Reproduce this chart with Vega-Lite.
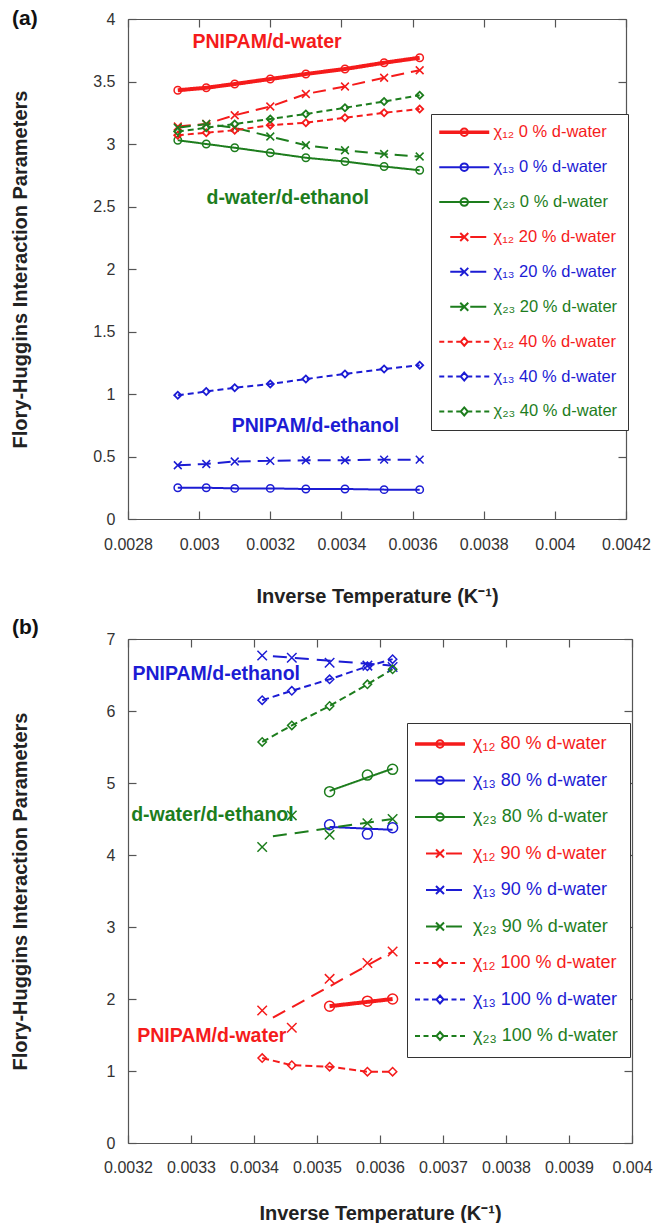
{
  "$schema": "https://vega.github.io/schema/vega-lite/v6.json",
  "background": "white",
  "padding": {"left": 10, "top": 8, "right": 0, "bottom": 0},
  "bounds": "flush",
  "spacing": 120,
  "config": {
    "font": "Liberation Sans",
    "view": {"stroke": null},
    "axis": {
      "grid": false,
      "domainColor": "#555555",
      "domainWidth": 1.2,
      "tickColor": "#555555",
      "tickWidth": 1.2,
      "tickSize": -8,
      "labelFlush": false,
      "labelOverlap": false,
      "labelFont": "Liberation Sans",
      "labelFontSize": 16,
      "labelColor": "#333333",
      "labelPadding": 21,
      "titleFont": "Liberation Sans",
      "titleFontSize": 20,
      "titleFontWeight": "bold",
      "titleColor": "#222222"
    },
    "title": {"font": "Liberation Sans", "fontSize": 21, "fontWeight": "bold", "color": "#111111", "anchor": "start", "frame": "group", "offset": 0}
  },
  "resolve": {
    "scale": {"color": "independent", "stroke": "independent", "shape": "independent", "strokeDash": "independent", "fill": "independent"},
    "legend": {"color": "independent", "stroke": "independent", "shape": "independent"}
  },
  "datasets": {
    "a_points": [
      {"series": "χ₁₂ 0 % d-water", "pct": 0, "x": 0.00294, "y": 3.43},
      {"series": "χ₁₂ 0 % d-water", "pct": 0, "x": 0.00302, "y": 3.45},
      {"series": "χ₁₂ 0 % d-water", "pct": 0, "x": 0.0031, "y": 3.48},
      {"series": "χ₁₂ 0 % d-water", "pct": 0, "x": 0.0032, "y": 3.52},
      {"series": "χ₁₂ 0 % d-water", "pct": 0, "x": 0.0033, "y": 3.56},
      {"series": "χ₁₂ 0 % d-water", "pct": 0, "x": 0.00341, "y": 3.6},
      {"series": "χ₁₂ 0 % d-water", "pct": 0, "x": 0.00352, "y": 3.65},
      {"series": "χ₁₂ 0 % d-water", "pct": 0, "x": 0.00362, "y": 3.69},
      {"series": "χ₁₃ 0 % d-water", "pct": 0, "x": 0.00294, "y": 0.25},
      {"series": "χ₁₃ 0 % d-water", "pct": 0, "x": 0.00302, "y": 0.25},
      {"series": "χ₁₃ 0 % d-water", "pct": 0, "x": 0.0031, "y": 0.245},
      {"series": "χ₁₃ 0 % d-water", "pct": 0, "x": 0.0032, "y": 0.245},
      {"series": "χ₁₃ 0 % d-water", "pct": 0, "x": 0.0033, "y": 0.24},
      {"series": "χ₁₃ 0 % d-water", "pct": 0, "x": 0.00341, "y": 0.24},
      {"series": "χ₁₃ 0 % d-water", "pct": 0, "x": 0.00352, "y": 0.235},
      {"series": "χ₁₃ 0 % d-water", "pct": 0, "x": 0.00362, "y": 0.235},
      {"series": "χ₂₃ 0 % d-water", "pct": 0, "x": 0.00294, "y": 3.03},
      {"series": "χ₂₃ 0 % d-water", "pct": 0, "x": 0.00302, "y": 3.0},
      {"series": "χ₂₃ 0 % d-water", "pct": 0, "x": 0.0031, "y": 2.97},
      {"series": "χ₂₃ 0 % d-water", "pct": 0, "x": 0.0032, "y": 2.93},
      {"series": "χ₂₃ 0 % d-water", "pct": 0, "x": 0.0033, "y": 2.89},
      {"series": "χ₂₃ 0 % d-water", "pct": 0, "x": 0.00341, "y": 2.86},
      {"series": "χ₂₃ 0 % d-water", "pct": 0, "x": 0.00352, "y": 2.82},
      {"series": "χ₂₃ 0 % d-water", "pct": 0, "x": 0.00362, "y": 2.79},
      {"series": "χ₁₂ 20 % d-water", "pct": 20, "x": 0.00294, "y": 3.14},
      {"series": "χ₁₂ 20 % d-water", "pct": 20, "x": 0.00302, "y": 3.16},
      {"series": "χ₁₂ 20 % d-water", "pct": 20, "x": 0.0031, "y": 3.23},
      {"series": "χ₁₂ 20 % d-water", "pct": 20, "x": 0.0032, "y": 3.3},
      {"series": "χ₁₂ 20 % d-water", "pct": 20, "x": 0.0033, "y": 3.4},
      {"series": "χ₁₂ 20 % d-water", "pct": 20, "x": 0.00341, "y": 3.46},
      {"series": "χ₁₂ 20 % d-water", "pct": 20, "x": 0.00352, "y": 3.53},
      {"series": "χ₁₂ 20 % d-water", "pct": 20, "x": 0.00362, "y": 3.59},
      {"series": "χ₁₃ 20 % d-water", "pct": 20, "x": 0.00294, "y": 0.43},
      {"series": "χ₁₃ 20 % d-water", "pct": 20, "x": 0.00302, "y": 0.44},
      {"series": "χ₁₃ 20 % d-water", "pct": 20, "x": 0.0031, "y": 0.46},
      {"series": "χ₁₃ 20 % d-water", "pct": 20, "x": 0.0032, "y": 0.465},
      {"series": "χ₁₃ 20 % d-water", "pct": 20, "x": 0.0033, "y": 0.47},
      {"series": "χ₁₃ 20 % d-water", "pct": 20, "x": 0.00341, "y": 0.47},
      {"series": "χ₁₃ 20 % d-water", "pct": 20, "x": 0.00352, "y": 0.475},
      {"series": "χ₁₃ 20 % d-water", "pct": 20, "x": 0.00362, "y": 0.475},
      {"series": "χ₂₃ 20 % d-water", "pct": 20, "x": 0.00294, "y": 3.13},
      {"series": "χ₂₃ 20 % d-water", "pct": 20, "x": 0.00302, "y": 3.16},
      {"series": "χ₂₃ 20 % d-water", "pct": 20, "x": 0.0031, "y": 3.13},
      {"series": "χ₂₃ 20 % d-water", "pct": 20, "x": 0.0032, "y": 3.06},
      {"series": "χ₂₃ 20 % d-water", "pct": 20, "x": 0.0033, "y": 2.99},
      {"series": "χ₂₃ 20 % d-water", "pct": 20, "x": 0.00341, "y": 2.95},
      {"series": "χ₂₃ 20 % d-water", "pct": 20, "x": 0.00352, "y": 2.92},
      {"series": "χ₂₃ 20 % d-water", "pct": 20, "x": 0.00362, "y": 2.9},
      {"series": "χ₁₂ 40 % d-water", "pct": 40, "x": 0.00294, "y": 3.07},
      {"series": "χ₁₂ 40 % d-water", "pct": 40, "x": 0.00302, "y": 3.09},
      {"series": "χ₁₂ 40 % d-water", "pct": 40, "x": 0.0031, "y": 3.11},
      {"series": "χ₁₂ 40 % d-water", "pct": 40, "x": 0.0032, "y": 3.15},
      {"series": "χ₁₂ 40 % d-water", "pct": 40, "x": 0.0033, "y": 3.17},
      {"series": "χ₁₂ 40 % d-water", "pct": 40, "x": 0.00341, "y": 3.21},
      {"series": "χ₁₂ 40 % d-water", "pct": 40, "x": 0.00352, "y": 3.25},
      {"series": "χ₁₂ 40 % d-water", "pct": 40, "x": 0.00362, "y": 3.28},
      {"series": "χ₁₃ 40 % d-water", "pct": 40, "x": 0.00294, "y": 0.99},
      {"series": "χ₁₃ 40 % d-water", "pct": 40, "x": 0.00302, "y": 1.02},
      {"series": "χ₁₃ 40 % d-water", "pct": 40, "x": 0.0031, "y": 1.05},
      {"series": "χ₁₃ 40 % d-water", "pct": 40, "x": 0.0032, "y": 1.08},
      {"series": "χ₁₃ 40 % d-water", "pct": 40, "x": 0.0033, "y": 1.12},
      {"series": "χ₁₃ 40 % d-water", "pct": 40, "x": 0.00341, "y": 1.16},
      {"series": "χ₁₃ 40 % d-water", "pct": 40, "x": 0.00352, "y": 1.2},
      {"series": "χ₁₃ 40 % d-water", "pct": 40, "x": 0.00362, "y": 1.23},
      {"series": "χ₂₃ 40 % d-water", "pct": 40, "x": 0.00294, "y": 3.1},
      {"series": "χ₂₃ 40 % d-water", "pct": 40, "x": 0.00302, "y": 3.13},
      {"series": "χ₂₃ 40 % d-water", "pct": 40, "x": 0.0031, "y": 3.16},
      {"series": "χ₂₃ 40 % d-water", "pct": 40, "x": 0.0032, "y": 3.2},
      {"series": "χ₂₃ 40 % d-water", "pct": 40, "x": 0.0033, "y": 3.24},
      {"series": "χ₂₃ 40 % d-water", "pct": 40, "x": 0.00341, "y": 3.29},
      {"series": "χ₂₃ 40 % d-water", "pct": 40, "x": 0.00352, "y": 3.34},
      {"series": "χ₂₃ 40 % d-water", "pct": 40, "x": 0.00362, "y": 3.39}
    ],
    "a_notes": [
      {"note": "PNIPAM/d-water", "pair": "12", "x": 0.003191, "y": 3.82},
      {"note": "d-water/d-ethanol", "pair": "23", "x": 0.003249, "y": 2.565},
      {"note": "PNIPAM/d-ethanol", "pair": "13", "x": 0.003327, "y": 0.745}
    ],
    "b_points": [
      {"series": "χ₁₂ 80 % d-water", "pct": 80, "x": 0.00352, "y": 1.9},
      {"series": "χ₁₂ 80 % d-water", "pct": 80, "x": 0.00358, "y": 1.97},
      {"series": "χ₁₂ 80 % d-water", "pct": 80, "x": 0.00362, "y": 2.0},
      {"series": "χ₁₃ 80 % d-water", "pct": 80, "x": 0.00352, "y": 4.42},
      {"series": "χ₁₃ 80 % d-water", "pct": 80, "x": 0.00358, "y": 4.29},
      {"series": "χ₁₃ 80 % d-water", "pct": 80, "x": 0.00362, "y": 4.38},
      {"series": "χ₂₃ 80 % d-water", "pct": 80, "x": 0.00352, "y": 4.88},
      {"series": "χ₂₃ 80 % d-water", "pct": 80, "x": 0.00358, "y": 5.11},
      {"series": "χ₂₃ 80 % d-water", "pct": 80, "x": 0.00362, "y": 5.19},
      {"series": "χ₁₂ 90 % d-water", "pct": 90, "x": 0.003413, "y": 1.84},
      {"series": "χ₁₂ 90 % d-water", "pct": 90, "x": 0.00346, "y": 1.6},
      {"series": "χ₁₂ 90 % d-water", "pct": 90, "x": 0.00352, "y": 2.28},
      {"series": "χ₁₂ 90 % d-water", "pct": 90, "x": 0.00358, "y": 2.5},
      {"series": "χ₁₂ 90 % d-water", "pct": 90, "x": 0.00362, "y": 2.66},
      {"series": "χ₁₃ 90 % d-water", "pct": 90, "x": 0.003413, "y": 6.77},
      {"series": "χ₁₃ 90 % d-water", "pct": 90, "x": 0.00346, "y": 6.74},
      {"series": "χ₁₃ 90 % d-water", "pct": 90, "x": 0.00352, "y": 6.67},
      {"series": "χ₁₃ 90 % d-water", "pct": 90, "x": 0.00358, "y": 6.63},
      {"series": "χ₁₃ 90 % d-water", "pct": 90, "x": 0.00362, "y": 6.61},
      {"series": "χ₂₃ 90 % d-water", "pct": 90, "x": 0.003413, "y": 4.11},
      {"series": "χ₂₃ 90 % d-water", "pct": 90, "x": 0.00346, "y": 4.55},
      {"series": "χ₂₃ 90 % d-water", "pct": 90, "x": 0.00352, "y": 4.28},
      {"series": "χ₂₃ 90 % d-water", "pct": 90, "x": 0.00358, "y": 4.44},
      {"series": "χ₂₃ 90 % d-water", "pct": 90, "x": 0.00362, "y": 4.5},
      {"series": "χ₁₂ 100 % d-water", "pct": 100, "x": 0.003413, "y": 1.18},
      {"series": "χ₁₂ 100 % d-water", "pct": 100, "x": 0.00346, "y": 1.08},
      {"series": "χ₁₂ 100 % d-water", "pct": 100, "x": 0.00352, "y": 1.06},
      {"series": "χ₁₂ 100 % d-water", "pct": 100, "x": 0.00358, "y": 0.99},
      {"series": "χ₁₂ 100 % d-water", "pct": 100, "x": 0.00362, "y": 0.99},
      {"series": "χ₁₃ 100 % d-water", "pct": 100, "x": 0.003413, "y": 6.15},
      {"series": "χ₁₃ 100 % d-water", "pct": 100, "x": 0.00346, "y": 6.28},
      {"series": "χ₁₃ 100 % d-water", "pct": 100, "x": 0.00352, "y": 6.44},
      {"series": "χ₁₃ 100 % d-water", "pct": 100, "x": 0.00358, "y": 6.62},
      {"series": "χ₁₃ 100 % d-water", "pct": 100, "x": 0.00362, "y": 6.72},
      {"series": "χ₂₃ 100 % d-water", "pct": 100, "x": 0.003413, "y": 5.57},
      {"series": "χ₂₃ 100 % d-water", "pct": 100, "x": 0.00346, "y": 5.8},
      {"series": "χ₂₃ 100 % d-water", "pct": 100, "x": 0.00352, "y": 6.07},
      {"series": "χ₂₃ 100 % d-water", "pct": 100, "x": 0.00358, "y": 6.37},
      {"series": "χ₂₃ 100 % d-water", "pct": 100, "x": 0.00362, "y": 6.58}
    ],
    "b_fits": [
      {"series": "χ₁₂ 80 % d-water", "pct": 80, "x": 0.00352, "y": 1.9},
      {"series": "χ₁₂ 80 % d-water", "pct": 80, "x": 0.00362, "y": 2.0},
      {"series": "χ₁₃ 80 % d-water", "pct": 80, "x": 0.00352, "y": 4.39},
      {"series": "χ₁₃ 80 % d-water", "pct": 80, "x": 0.00362, "y": 4.35},
      {"series": "χ₂₃ 80 % d-water", "pct": 80, "x": 0.00352, "y": 4.89},
      {"series": "χ₂₃ 80 % d-water", "pct": 80, "x": 0.00362, "y": 5.2},
      {"series": "χ₁₂ 90 % d-water", "pct": 90, "x": 0.00343, "y": 1.74},
      {"series": "χ₁₂ 90 % d-water", "pct": 90, "x": 0.00362, "y": 2.66},
      {"series": "χ₁₃ 90 % d-water", "pct": 90, "x": 0.00343, "y": 6.76},
      {"series": "χ₁₃ 90 % d-water", "pct": 90, "x": 0.00362, "y": 6.63},
      {"series": "χ₂₃ 90 % d-water", "pct": 90, "x": 0.00343, "y": 4.26},
      {"series": "χ₂₃ 90 % d-water", "pct": 90, "x": 0.00362, "y": 4.5}
    ],
    "b_notes": [
      {"note": "PNIPAM/d-ethanol", "pair": "13", "x": 0.00334, "y": 6.51},
      {"note": "d-water/d-ethanol", "pair": "23", "x": 0.003334, "y": 4.55},
      {"note": "PNIPAM/d-water", "pair": "12", "x": 0.003333, "y": 1.48}
    ]
  },
  "vconcat": [
    {
      "title": {"text": "(a)", "dx": -116, "dy": 22},
      "width": 498,
      "height": 500,
      "resolve": {"axis": {"x": "independent", "y": "independent"}},
      "layer": [
        {
          "data": {"name": "a_points"},
          "mark": {"type": "point", "filled": false, "opacity": 0, "strokeWidth": 2},
          "encoding": {
            "x": {"field": "x", "type": "quantitative", "scale": {"domain": [0.0028, 0.0042], "nice": false, "zero": false},
                  "axis": {"orient": "top", "labels": false, "title": null, "values": [0.0028, 0.003, 0.0032, 0.0034, 0.0036, 0.0038, 0.004, 0.0042]}},
            "y": {"field": "y", "type": "quantitative", "scale": {"domain": [0, 4], "nice": false},
                  "axis": {"orient": "right", "labels": false, "title": null, "values": [0, 0.5, 1, 1.5, 2, 2.5, 3, 3.5, 4]}},
            "stroke": {
              "field": "series", "type": "nominal",
              "scale": {
                "domain": ["χ₁₂ 0 % d-water", "χ₁₃ 0 % d-water", "χ₂₃ 0 % d-water", "χ₁₂ 20 % d-water", "χ₁₃ 20 % d-water", "χ₂₃ 20 % d-water", "χ₁₂ 40 % d-water", "χ₁₃ 40 % d-water", "χ₂₃ 40 % d-water"],
                "range": ["#f51b1b", "#1c1cd4", "#1d7d1d", "#f51b1b", "#1c1cd4", "#1d7d1d", "#f51b1b", "#1c1cd4", "#1d7d1d"]
              },
              "legend": {
                "title": null, "orient": "none", "legendX": 303, "legendY": 95,
                "padding": 10, "strokeColor": "#333333", "fillColor": "#ffffff",
                "labelFont": "Liberation Sans", "labelFontSize": 16.5, "labelLimit": 0,
                "labelColor": {"expr": "indexof(datum.label, '₁₂') >= 0 ? '#f51b1b' : indexof(datum.label, '₁₃') >= 0 ? '#1c1cd4' : '#1d7d1d'"},
                "symbolSize": 100, "symbolStrokeWidth": 2, "symbolOffset": 15, "labelOffset": 21, "rowPadding": 17.9
              }
            },
            "shape": {
              "field": "series", "type": "nominal",
              "scale": {
                "domain": ["χ₁₂ 0 % d-water", "χ₁₃ 0 % d-water", "χ₂₃ 0 % d-water", "χ₁₂ 20 % d-water", "χ₁₃ 20 % d-water", "χ₂₃ 20 % d-water", "χ₁₂ 40 % d-water", "χ₁₃ 40 % d-water", "χ₂₃ 40 % d-water"],
                "range": [
                  "M-5,-0.16H5M-5,0H5M-5,0.16H5M-0.75,0A0.75,0.75 0 1,0 0.75,0A0.75,0.75 0 1,0 -0.75,0",
                  "M-5,0H5M-0.75,0A0.75,0.75 0 1,0 0.75,0A0.75,0.75 0 1,0 -0.75,0",
                  "M-5,0H5M-0.75,0A0.75,0.75 0 1,0 0.75,0A0.75,0.75 0 1,0 -0.75,0",
                  "M-2.8,0H-0.2M1.2,0H4.4M-0.8,-0.8L0.8,0.8M-0.8,0.8L0.8,-0.8",
                  "M-2.8,0H-0.2M1.2,0H4.4M-0.8,-0.8L0.8,0.8M-0.8,0.8L0.8,-0.8",
                  "M-2.8,0H-0.2M1.2,0H4.4M-0.8,-0.8L0.8,0.8M-0.8,0.8L0.8,-0.8",
                  "M-5,0H-4M-3.3,0H-2.3M-1.6,0H-0.7M0.7,0H1.6M2.3,0H3.3M4,0H5M0,-0.8L0.7,0L0,0.8L-0.7,0Z",
                  "M-5,0H-4M-3.3,0H-2.3M-1.6,0H-0.7M0.7,0H1.6M2.3,0H3.3M4,0H5M0,-0.8L0.7,0L0,0.8L-0.7,0Z",
                  "M-5,0H-4M-3.3,0H-2.3M-1.6,0H-0.7M0.7,0H1.6M2.3,0H3.3M4,0H5M0,-0.8L0.7,0L0,0.8L-0.7,0Z"
                ]
              }
            }
          }
        },
        {
          "data": {"name": "a_points"},
          "mark": {"type": "line"},
          "encoding": {
            "x": {"field": "x", "type": "quantitative", "scale": {"domain": [0.0028, 0.0042], "nice": false, "zero": false},
                  "axis": {"orient": "bottom", "title": "Inverse Temperature (K⁻¹)", "titlePadding": 34, "labelPadding": 25, "format": "~g", "values": [0.0028, 0.003, 0.0032, 0.0034, 0.0036, 0.0038, 0.004, 0.0042]}},
            "y": {"field": "y", "type": "quantitative", "scale": {"domain": [0, 4], "nice": false},
                  "axis": {"orient": "left", "title": "Flory-Huggins Interaction Parameters", "titlePadding": 62, "labelPadding": 21, "format": "~g", "values": [0, 0.5, 1, 1.5, 2, 2.5, 3, 3.5, 4]}},
            "color": {
              "field": "series", "type": "nominal", "legend": null,
              "scale": {
                "domain": ["χ₁₂ 0 % d-water", "χ₁₃ 0 % d-water", "χ₂₃ 0 % d-water", "χ₁₂ 20 % d-water", "χ₁₃ 20 % d-water", "χ₂₃ 20 % d-water", "χ₁₂ 40 % d-water", "χ₁₃ 40 % d-water", "χ₂₃ 40 % d-water"],
                "range": ["#f51b1b", "#1c1cd4", "#1d7d1d", "#f51b1b", "#1c1cd4", "#1d7d1d", "#f51b1b", "#1c1cd4", "#1d7d1d"]
              }
            },
            "strokeDash": {"field": "pct", "type": "nominal", "scale": {"domain": [0, 20, 40], "range": [[1, 0], [13, 7], [6, 4]]}, "legend": null},
            "strokeWidth": {"condition": {"test": "datum.series === 'χ₁₂ 0 % d-water'", "value": 4}, "value": 2}
          }
        },
        {
          "data": {"name": "a_points"},
          "transform": [{"filter": "datum.pct === 0"}],
          "mark": {"type": "point", "shape": "circle", "filled": false, "size": 55, "strokeWidth": 1.5, "opacity": 1},
          "encoding": {
            "x": {"field": "x", "type": "quantitative", "axis": null},
            "y": {"field": "y", "type": "quantitative", "axis": null},
            "color": {
              "field": "series", "type": "nominal", "legend": null,
              "scale": {
                "domain": ["χ₁₂ 0 % d-water", "χ₁₃ 0 % d-water", "χ₂₃ 0 % d-water", "χ₁₂ 20 % d-water", "χ₁₃ 20 % d-water", "χ₂₃ 20 % d-water", "χ₁₂ 40 % d-water", "χ₁₃ 40 % d-water", "χ₂₃ 40 % d-water"],
                "range": ["#f51b1b", "#1c1cd4", "#1d7d1d", "#f51b1b", "#1c1cd4", "#1d7d1d", "#f51b1b", "#1c1cd4", "#1d7d1d"]
              }
            }
          }
        },
        {
          "data": {"name": "a_points"},
          "transform": [{"filter": "datum.pct === 20"}],
          "mark": {"type": "point", "shape": "M-1,-1L1,1M-1,1L1,-1", "filled": false, "size": 60, "strokeWidth": 1.5, "opacity": 1},
          "encoding": {
            "x": {"field": "x", "type": "quantitative", "axis": null},
            "y": {"field": "y", "type": "quantitative", "axis": null},
            "color": {
              "field": "series", "type": "nominal", "legend": null,
              "scale": {
                "domain": ["χ₁₂ 0 % d-water", "χ₁₃ 0 % d-water", "χ₂₃ 0 % d-water", "χ₁₂ 20 % d-water", "χ₁₃ 20 % d-water", "χ₂₃ 20 % d-water", "χ₁₂ 40 % d-water", "χ₁₃ 40 % d-water", "χ₂₃ 40 % d-water"],
                "range": ["#f51b1b", "#1c1cd4", "#1d7d1d", "#f51b1b", "#1c1cd4", "#1d7d1d", "#f51b1b", "#1c1cd4", "#1d7d1d"]
              }
            }
          }
        },
        {
          "data": {"name": "a_points"},
          "transform": [{"filter": "datum.pct === 40"}],
          "mark": {"type": "point", "shape": "diamond", "filled": false, "size": 50, "strokeWidth": 1.8, "opacity": 1},
          "encoding": {
            "x": {"field": "x", "type": "quantitative", "axis": null},
            "y": {"field": "y", "type": "quantitative", "axis": null},
            "color": {
              "field": "series", "type": "nominal", "legend": null,
              "scale": {
                "domain": ["χ₁₂ 0 % d-water", "χ₁₃ 0 % d-water", "χ₂₃ 0 % d-water", "χ₁₂ 20 % d-water", "χ₁₃ 20 % d-water", "χ₂₃ 20 % d-water", "χ₁₂ 40 % d-water", "χ₁₃ 40 % d-water", "χ₂₃ 40 % d-water"],
                "range": ["#f51b1b", "#1c1cd4", "#1d7d1d", "#f51b1b", "#1c1cd4", "#1d7d1d", "#f51b1b", "#1c1cd4", "#1d7d1d"]
              }
            }
          }
        },
        {
          "data": {"name": "a_notes"},
          "mark": {"type": "text", "font": "Liberation Sans", "fontSize": 19.5, "fontWeight": "bold", "align": "center", "baseline": "middle"},
          "encoding": {
            "x": {"field": "x", "type": "quantitative", "axis": null},
            "y": {"field": "y", "type": "quantitative", "axis": null},
            "text": {"field": "note"},
            "fill": {"field": "pair", "type": "nominal", "scale": {"domain": ["12", "13", "23"], "range": ["#f51b1b", "#1c1cd4", "#1d7d1d"]}, "legend": null}
          }
        }
      ]
    },
    {
      "title": {"text": "(b)", "dx": -116, "dy": 11},
      "width": 504,
      "height": 504,
      "resolve": {"axis": {"x": "independent", "y": "independent"}},
      "layer": [
        {
          "data": {"name": "b_points"},
          "mark": {"type": "point", "filled": false, "opacity": 0, "strokeWidth": 2},
          "encoding": {
            "x": {"field": "x", "type": "quantitative", "scale": {"domain": [0.0032, 0.004], "nice": false, "zero": false},
                  "axis": {"orient": "top", "labels": false, "title": null, "values": [0.0032, 0.0033, 0.0034, 0.0035, 0.0036, 0.0037, 0.0038, 0.0039, 0.004]}},
            "y": {"field": "y", "type": "quantitative", "scale": {"domain": [0, 7], "nice": false},
                  "axis": {"orient": "right", "labels": false, "title": null, "values": [0, 1, 2, 3, 4, 5, 6, 7]}},
            "stroke": {
              "field": "series", "type": "nominal",
              "scale": {
                "domain": ["χ₁₂ 80 % d-water", "χ₁₃ 80 % d-water", "χ₂₃ 80 % d-water", "χ₁₂ 90 % d-water", "χ₁₃ 90 % d-water", "χ₂₃ 90 % d-water", "χ₁₂ 100 % d-water", "χ₁₃ 100 % d-water", "χ₂₃ 100 % d-water"],
                "range": ["#f51b1b", "#1c1cd4", "#1d7d1d", "#f51b1b", "#1c1cd4", "#1d7d1d", "#f51b1b", "#1c1cd4", "#1d7d1d"]
              },
              "legend": {
                "title": null, "orient": "none", "legendX": 279, "legendY": 84,
                "padding": 12, "strokeColor": "#333333", "fillColor": "#ffffff",
                "labelFont": "Liberation Sans", "labelFontSize": 18, "labelLimit": 0,
                "labelColor": {"expr": "indexof(datum.label, '₁₂') >= 0 ? '#f51b1b' : indexof(datum.label, '₁₃') >= 0 ? '#1c1cd4' : '#1d7d1d'"},
                "symbolSize": 100, "symbolStrokeWidth": 2, "symbolOffset": 12, "labelOffset": 24, "rowPadding": 18.5
              }
            },
            "shape": {
              "field": "series", "type": "nominal",
              "scale": {
                "domain": ["χ₁₂ 80 % d-water", "χ₁₃ 80 % d-water", "χ₂₃ 80 % d-water", "χ₁₂ 90 % d-water", "χ₁₃ 90 % d-water", "χ₂₃ 90 % d-water", "χ₁₂ 100 % d-water", "χ₁₃ 100 % d-water", "χ₂₃ 100 % d-water"],
                "range": [
                  "M-5,-0.16H5M-5,0H5M-5,0.16H5M-0.75,0A0.75,0.75 0 1,0 0.75,0A0.75,0.75 0 1,0 -0.75,0",
                  "M-5,0H5M-0.75,0A0.75,0.75 0 1,0 0.75,0A0.75,0.75 0 1,0 -0.75,0",
                  "M-5,0H5M-0.75,0A0.75,0.75 0 1,0 0.75,0A0.75,0.75 0 1,0 -0.75,0",
                  "M-2.8,0H-0.2M1.2,0H4.4M-0.8,-0.8L0.8,0.8M-0.8,0.8L0.8,-0.8",
                  "M-2.8,0H-0.2M1.2,0H4.4M-0.8,-0.8L0.8,0.8M-0.8,0.8L0.8,-0.8",
                  "M-2.8,0H-0.2M1.2,0H4.4M-0.8,-0.8L0.8,0.8M-0.8,0.8L0.8,-0.8",
                  "M-5,0H-4M-3.3,0H-2.3M-1.6,0H-0.7M0.7,0H1.6M2.3,0H3.3M4,0H5M0,-0.8L0.7,0L0,0.8L-0.7,0Z",
                  "M-5,0H-4M-3.3,0H-2.3M-1.6,0H-0.7M0.7,0H1.6M2.3,0H3.3M4,0H5M0,-0.8L0.7,0L0,0.8L-0.7,0Z",
                  "M-5,0H-4M-3.3,0H-2.3M-1.6,0H-0.7M0.7,0H1.6M2.3,0H3.3M4,0H5M0,-0.8L0.7,0L0,0.8L-0.7,0Z"
                ]
              }
            }
          }
        },
        {
          "data": {"name": "b_fits"},
          "mark": {"type": "line"},
          "encoding": {
            "x": {"field": "x", "type": "quantitative", "scale": {"domain": [0.0032, 0.004], "nice": false, "zero": false},
                  "axis": {"orient": "bottom", "title": "Inverse Temperature (K⁻¹)", "titlePadding": 28, "labelPadding": 24, "format": "~g", "values": [0.0032, 0.0033, 0.0034, 0.0035, 0.0036, 0.0037, 0.0038, 0.0039, 0.004]}},
            "y": {"field": "y", "type": "quantitative", "scale": {"domain": [0, 7], "nice": false},
                  "axis": {"orient": "left", "title": "Flory-Huggins Interaction Parameters", "titlePadding": 76, "labelPadding": 21, "format": "~g", "values": [0, 1, 2, 3, 4, 5, 6, 7]}},
            "color": {
              "field": "series", "type": "nominal", "legend": null,
              "scale": {
                "domain": ["χ₁₂ 80 % d-water", "χ₁₃ 80 % d-water", "χ₂₃ 80 % d-water", "χ₁₂ 90 % d-water", "χ₁₃ 90 % d-water", "χ₂₃ 90 % d-water", "χ₁₂ 100 % d-water", "χ₁₃ 100 % d-water", "χ₂₃ 100 % d-water"],
                "range": ["#f51b1b", "#1c1cd4", "#1d7d1d", "#f51b1b", "#1c1cd4", "#1d7d1d", "#f51b1b", "#1c1cd4", "#1d7d1d"]
              }
            },
            "strokeDash": {"field": "pct", "type": "nominal", "scale": {"domain": [80, 90, 100], "range": [[1, 0], [14, 8], [7, 4]]}, "legend": null},
            "strokeWidth": {"condition": {"test": "datum.series === 'χ₁₂ 80 % d-water'", "value": 4}, "value": 2}
          }
        },
        {
          "data": {"name": "b_points"},
          "transform": [{"filter": "datum.pct === 100"}],
          "mark": {"type": "line", "strokeWidth": 2},
          "encoding": {
            "x": {"field": "x", "type": "quantitative", "axis": null},
            "y": {"field": "y", "type": "quantitative", "axis": null},
            "color": {
              "field": "series", "type": "nominal", "legend": null,
              "scale": {
                "domain": ["χ₁₂ 80 % d-water", "χ₁₃ 80 % d-water", "χ₂₃ 80 % d-water", "χ₁₂ 90 % d-water", "χ₁₃ 90 % d-water", "χ₂₃ 90 % d-water", "χ₁₂ 100 % d-water", "χ₁₃ 100 % d-water", "χ₂₃ 100 % d-water"],
                "range": ["#f51b1b", "#1c1cd4", "#1d7d1d", "#f51b1b", "#1c1cd4", "#1d7d1d", "#f51b1b", "#1c1cd4", "#1d7d1d"]
              }
            },
            "strokeDash": {"field": "pct", "type": "nominal", "scale": {"domain": [80, 90, 100], "range": [[1, 0], [14, 8], [7, 4]]}, "legend": null}
          }
        },
        {
          "data": {"name": "b_points"},
          "transform": [{"filter": "datum.pct === 80"}],
          "mark": {"type": "point", "shape": "circle", "filled": false, "size": 100, "strokeWidth": 1.5, "opacity": 1},
          "encoding": {
            "x": {"field": "x", "type": "quantitative", "axis": null},
            "y": {"field": "y", "type": "quantitative", "axis": null},
            "color": {
              "field": "series", "type": "nominal", "legend": null,
              "scale": {
                "domain": ["χ₁₂ 80 % d-water", "χ₁₃ 80 % d-water", "χ₂₃ 80 % d-water", "χ₁₂ 90 % d-water", "χ₁₃ 90 % d-water", "χ₂₃ 90 % d-water", "χ₁₂ 100 % d-water", "χ₁₃ 100 % d-water", "χ₂₃ 100 % d-water"],
                "range": ["#f51b1b", "#1c1cd4", "#1d7d1d", "#f51b1b", "#1c1cd4", "#1d7d1d", "#f51b1b", "#1c1cd4", "#1d7d1d"]
              }
            }
          }
        },
        {
          "data": {"name": "b_points"},
          "transform": [{"filter": "datum.pct === 90"}],
          "mark": {"type": "point", "shape": "M-1,-1L1,1M-1,1L1,-1", "filled": false, "size": 90, "strokeWidth": 1.5, "opacity": 1},
          "encoding": {
            "x": {"field": "x", "type": "quantitative", "axis": null},
            "y": {"field": "y", "type": "quantitative", "axis": null},
            "color": {
              "field": "series", "type": "nominal", "legend": null,
              "scale": {
                "domain": ["χ₁₂ 80 % d-water", "χ₁₃ 80 % d-water", "χ₂₃ 80 % d-water", "χ₁₂ 90 % d-water", "χ₁₃ 90 % d-water", "χ₂₃ 90 % d-water", "χ₁₂ 100 % d-water", "χ₁₃ 100 % d-water", "χ₂₃ 100 % d-water"],
                "range": ["#f51b1b", "#1c1cd4", "#1d7d1d", "#f51b1b", "#1c1cd4", "#1d7d1d", "#f51b1b", "#1c1cd4", "#1d7d1d"]
              }
            }
          }
        },
        {
          "data": {"name": "b_points"},
          "transform": [{"filter": "datum.pct === 100"}],
          "mark": {"type": "point", "shape": "diamond", "filled": false, "size": 70, "strokeWidth": 1.5, "opacity": 1},
          "encoding": {
            "x": {"field": "x", "type": "quantitative", "axis": null},
            "y": {"field": "y", "type": "quantitative", "axis": null},
            "color": {
              "field": "series", "type": "nominal", "legend": null,
              "scale": {
                "domain": ["χ₁₂ 80 % d-water", "χ₁₃ 80 % d-water", "χ₂₃ 80 % d-water", "χ₁₂ 90 % d-water", "χ₁₃ 90 % d-water", "χ₂₃ 90 % d-water", "χ₁₂ 100 % d-water", "χ₁₃ 100 % d-water", "χ₂₃ 100 % d-water"],
                "range": ["#f51b1b", "#1c1cd4", "#1d7d1d", "#f51b1b", "#1c1cd4", "#1d7d1d", "#f51b1b", "#1c1cd4", "#1d7d1d"]
              }
            }
          }
        },
        {
          "data": {"name": "b_notes"},
          "mark": {"type": "text", "font": "Liberation Sans", "fontSize": 19.5, "fontWeight": "bold", "align": "center", "baseline": "middle"},
          "encoding": {
            "x": {"field": "x", "type": "quantitative", "axis": null},
            "y": {"field": "y", "type": "quantitative", "axis": null},
            "text": {"field": "note"},
            "fill": {"field": "pair", "type": "nominal", "scale": {"domain": ["12", "13", "23"], "range": ["#f51b1b", "#1c1cd4", "#1d7d1d"]}, "legend": null}
          }
        }
      ]
    }
  ]
}
